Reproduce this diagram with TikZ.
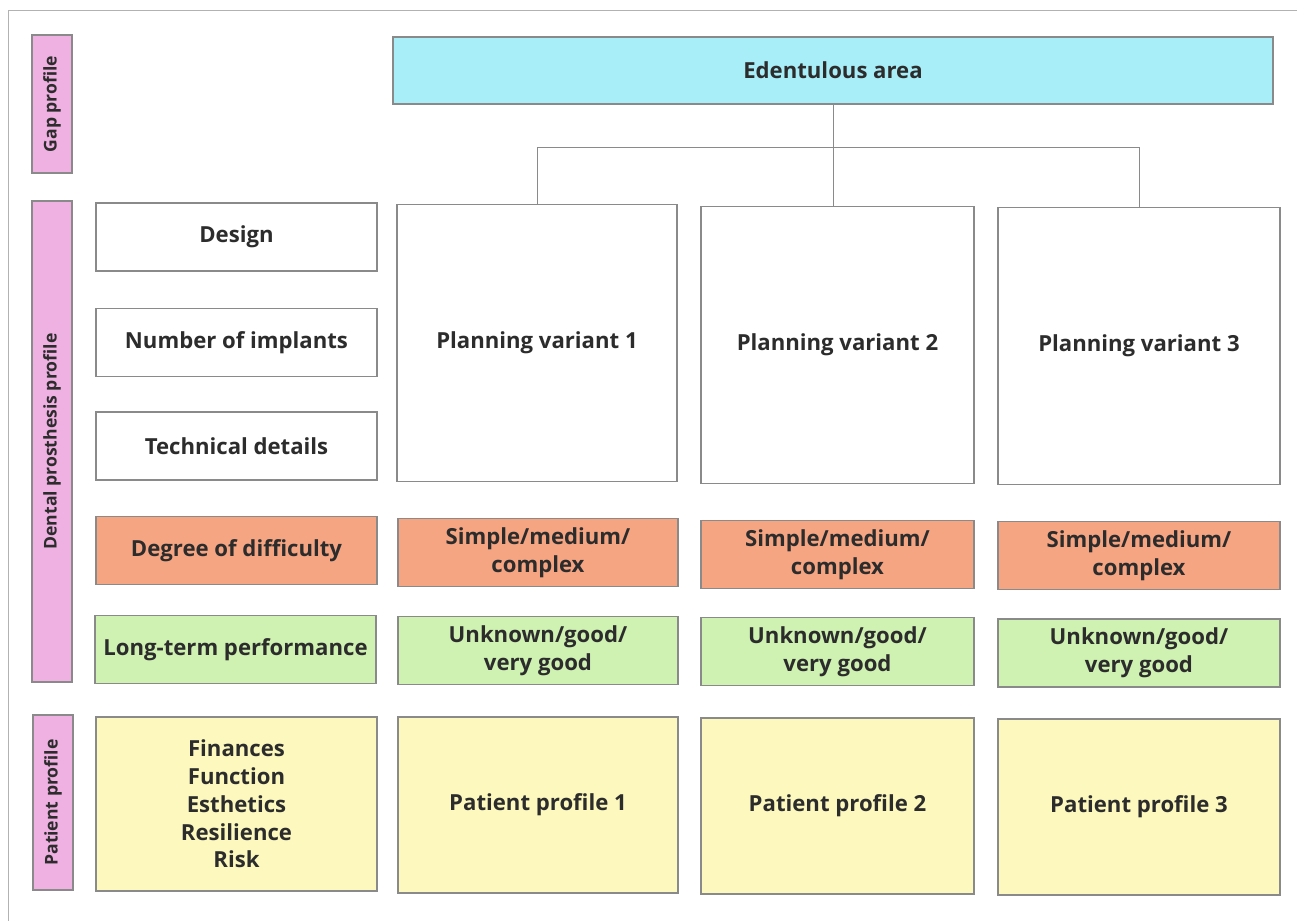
\documentclass[tikz,border=0pt]{standalone}
\usepackage{fontspec}
\setmainfont{Open Sans}
\usetikzlibrary{positioning}

\definecolor{gapcyan}{HTML}{A8EEF8}
\definecolor{barpink}{HTML}{EFB0E2}
\definecolor{diffred}{HTML}{F6A583}
\definecolor{perfgreen}{HTML}{CFF2B2}
\definecolor{patyellow}{HTML}{FCF8BE}
\definecolor{inkgray}{HTML}{2C2C2C}
\definecolor{edgegray}{HTML}{8A8A8A}

\tikzset{
  cell/.style={draw=edgegray,line width=0.6pt,align=center,inner sep=2pt,
    text=inkgray,font=\fontsize{12.6}{15.8}\selectfont\bfseries},
  sidebar/.style={draw=edgegray,line width=0.6pt,fill=barpink,minimum width=0.8cm,
    inner sep=0pt,text=inkgray,font=\fontsize{10}{12}\selectfont\bfseries},
  link/.style={draw=edgegray,line width=0.5pt}
}

\begin{document}
\begin{tikzpicture}
    \pgfmathsetmacro{\leftw}{5.62}   % width of the left criteria column
    \pgfmathsetmacro{\rowh}{1.36}
    \useasboundingbox (0,0) rectangle (25.94,18.42);
    % scan frame
    \draw[gray!60,line width=0.5pt] (0.16,0) -- (0.16,18.22) -- (25.94,18.22);

    % side bars
    \node[sidebar,minimum height=2.76cm] (gapbar) at (1.04,16.34) {\rotatebox{90}{Gap profile}};
    \node[sidebar,minimum height=9.62cm] (dentbar) at (1.04,9.59) {\rotatebox{90}{Dental prosthesis profile}};
    \node[sidebar,minimum height=3.5cm] (patbar) at (1.06,2.37) {\rotatebox{90}{Patient profile}};

    % gap
    \node[cell,fill=gapcyan,minimum width=17.6cm,minimum height=1.34cm] (edent) at (16.66,17.01) {Edentulous area};

    % left criteria column
    \node[cell,minimum width=\leftw cm,minimum height=\rowh cm] (design) at (4.73,13.68) {Design};
    \node[cell,minimum width=\leftw cm,minimum height=\rowh cm] (implants) at (4.73,11.57) {Number of implants};
    \node[cell,minimum width=\leftw cm,minimum height=\rowh cm] (techdet) at (4.73,9.50) {Technical details};
    \node[cell,fill=diffred,minimum width=\leftw cm,minimum height=\rowh cm] (difflabel) at (4.73,7.41) {Degree of difficulty};
    \node[cell,fill=perfgreen,minimum width=\leftw cm,minimum height=\rowh cm] (perflabel) at (4.71,5.43) {Long-term performance};
    \node[cell,fill=patyellow,minimum width=\leftw cm,minimum height=3.48cm] (patlabel) at (4.73,2.34)
      {Finances\\Function\\Esthetics\\Resilience\\Risk};

    % planning variants
    \node[cell,minimum width=5.6cm,minimum height=5.54cm] (pv1) at (10.74,11.56) {Planning variant 1};
    \node[cell,minimum width=5.46cm,minimum height=5.54cm] (pv2) at (16.75,11.52) {Planning variant 2};
    \node[cell,minimum width=5.64cm,minimum height=5.54cm] (pv3) at (22.78,11.50) {Planning variant 3};

    \node[cell,fill=diffred,minimum width=5.6cm,minimum height=\rowh cm] (diff1) at (10.76,7.37) {Simple/medium/\\complex};
    \node[cell,fill=diffred,minimum width=5.46cm,minimum height=\rowh cm] (diff2) at (16.75,7.33) {Simple/medium/\\complex};
    \node[cell,fill=diffred,minimum width=5.64cm,minimum height=\rowh cm] (diff3) at (22.78,7.31) {Simple/medium/\\complex};

    \node[cell,fill=perfgreen,minimum width=5.6cm,minimum height=\rowh cm] (perf1) at (10.76,5.41) {Unknown/good/\\very good};
    \node[cell,fill=perfgreen,minimum width=5.46cm,minimum height=\rowh cm] (perf2) at (16.75,5.39) {Unknown/good/\\very good};
    \node[cell,fill=perfgreen,minimum width=5.64cm,minimum height=\rowh cm] (perf3) at (22.78,5.36) {Unknown/good/\\very good};

    \node[cell,fill=patyellow,minimum width=5.6cm,minimum height=3.52cm] (pat1) at (10.76,2.32) {Patient profile 1};
    \node[cell,fill=patyellow,minimum width=5.46cm,minimum height=3.52cm] (pat2) at (16.75,2.30) {Patient profile 2};
    \node[cell,fill=patyellow,minimum width=5.64cm,minimum height=3.52cm] (pat3) at (22.78,2.28) {Patient profile 3};

    % branching
    \coordinate (fork) at (16.66,15.48);
    \draw[link] (edent.south) -- (edent.south |- pv2.north);
    \draw[link] (pv1.north) |- (fork) -| (pv3.north);
\end{tikzpicture}
\end{document}
